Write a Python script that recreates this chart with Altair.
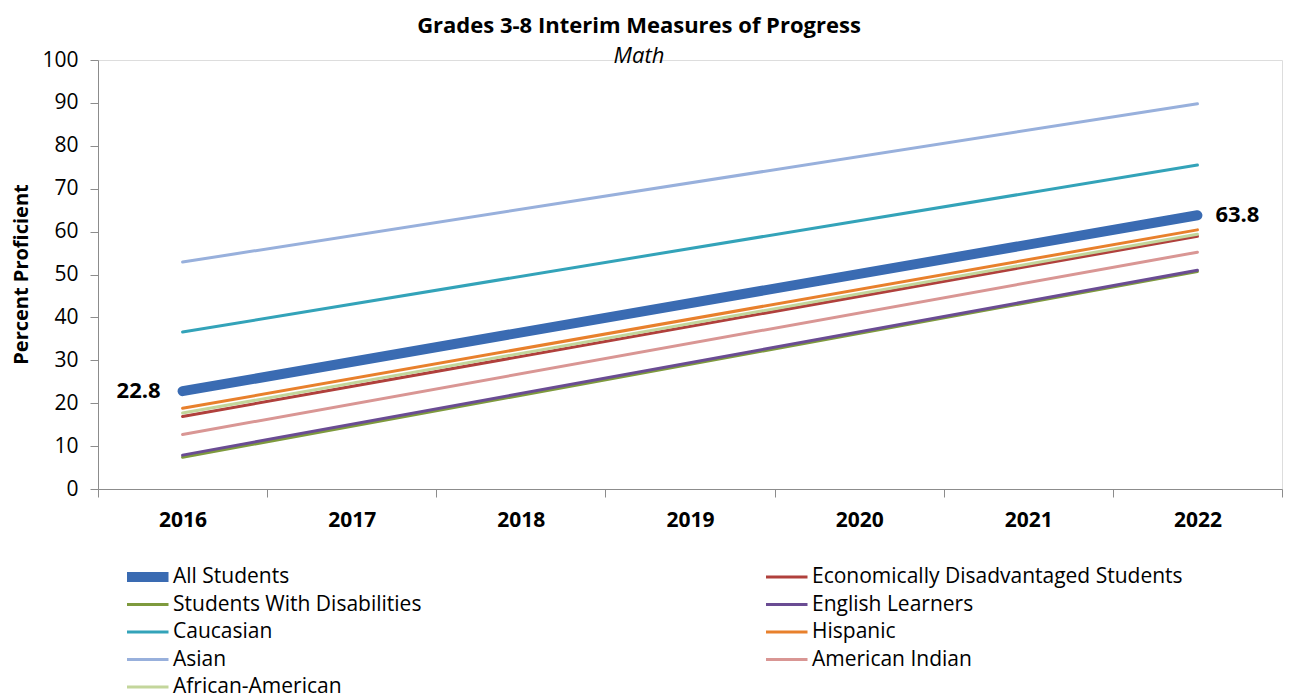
import altair as alt
import pandas as pd

years = ["2016", "2017", "2018", "2019", "2020", "2021", "2022"]
series = [
    "All Students",
    "Economically Disadvantaged Students",
    "Students With Disabilities",
    "English Learners",
    "Caucasian",
    "Hispanic",
    "Asian",
    "American Indian",
    "African-American",
]
value_2016 = [22.8, 16.9, 7.4, 7.9, 36.6, 18.8, 52.9, 12.7, 17.7]
value_2022 = [63.8, 58.9, 50.7, 51.0, 75.5, 60.4, 89.8, 55.2, 59.4]
colors = ["#3A6BB2", "#B0403C", "#7E9A3D", "#6A4C93", "#33A3B9",
          "#E8802C", "#98B0DC", "#D99694", "#C3D69B"]
widths = [10, 3, 3, 3, 3, 3, 3, 3, 3]

rows = []
for s, a, b in zip(series, value_2016, value_2022):
    rows.append({"Group": s, "Year": years[0], "Value": a})
    rows.append({"Group": s, "Year": years[-1], "Value": b})
df = pd.DataFrame(rows)

labels_df = pd.DataFrame([
    {"Year": years[0], "Value": value_2016[0], "Label": f"{value_2016[0]}", "side": "start"},
    {"Year": years[-1], "Value": value_2022[0], "Label": f"{value_2022[0]}", "side": "end"},
])

FONT = "Open Sans"

legend = alt.Legend(
    title=None,
    orient="none",
    direction="horizontal",
    legendX=29,
    legendY=505,
    columns=2,
    columnPadding=344,
    rowPadding=3.5,
    padding=0,
    clipHeight=24,
    symbolType="M-2.2,0H6.2",
    symbolSize=100,
    labelOffset=25,
    labelFont=FONT,
    labelFontSize=21,
    labelColor="#000000",
    labelLimit=600,
)

x_enc = alt.X(
    "Year:O",
    scale=alt.Scale(domain=years, paddingInner=0, paddingOuter=0),
    axis=alt.Axis(
        title=None,
        labelAngle=0,
        labelFont=FONT,
        labelFontSize=21,
        labelFontWeight="bold",
        labelColor="#000000",
        labelPadding=12,
        tickBand="extent",
        tickSize=8,
        tickColor="#8C8C8C",
        domainColor="#8C8C8C",
        grid=False,
    ),
)

y_enc = alt.Y(
    "Value:Q",
    scale=alt.Scale(domain=[0, 100], nice=False),
    axis=alt.Axis(
        title="Percent Proficient",
        values=list(range(0, 101, 10)),
        labelFont=FONT,
        labelFontSize=21,
        labelColor="#000000",
        labelPadding=12,
        tickSize=8,
        tickColor="#8C8C8C",
        domainColor="#8C8C8C",
        grid=False,
        titleFont=FONT,
        titleFontSize=20,
        titleFontWeight="bold",
        titleColor="#000000",
        titleX=-77,
        titleY=214,
        titleAngle=270,
        titleAlign="center",
        titleBaseline="middle",
    ),
)

lines = alt.Chart(df).mark_line(strokeCap="round").encode(
    x=x_enc,
    y=y_enc,
    color=alt.Color("Group:N", scale=alt.Scale(domain=series, range=colors), legend=legend),
    strokeWidth=alt.StrokeWidth("Group:N", scale=alt.Scale(type="ordinal", domain=series, range=widths), legend=legend),
    detail="Group:N",
)

label_start = alt.Chart(labels_df).transform_filter(alt.datum.side == "start").mark_text(
    align="right", baseline="middle", dx=-22, font=FONT, fontSize=22, fontWeight="bold", color="#000000"
).encode(x=alt.X("Year:O"), y=alt.Y("Value:Q"), text="Label:N")

label_end = alt.Chart(labels_df).transform_filter(alt.datum.side == "end").mark_text(
    align="left", baseline="middle", dx=18, font=FONT, fontSize=22, fontWeight="bold", color="#000000"
).encode(x=alt.X("Year:O"), y=alt.Y("Value:Q"), text="Label:N")

chart = alt.layer(lines, label_start, label_end).properties(
    width=1184,
    height=429,
    autosize=alt.AutoSizeParams(type="none"),
    padding={"left": 90, "top": 52, "right": 2, "bottom": 211},
    title=alt.TitleParams(
        text="Grades 3-8 Interim Measures of Progress",
        subtitle="Math",
        font=FONT,
        fontSize=22,
        fontWeight="bold",
        color="#000000",
        subtitleFont=FONT,
        subtitleFontSize=22,
        subtitleFontStyle="italic",
        subtitleColor="#000000",
        subtitlePadding=8,
        anchor="middle",
        dx=-51,
        offset=-19,
    ),
).configure_view(stroke=None).configure(background="#FFFFFF")

chart.save("out.html", embed_options={"renderer": "svg", "actions": False})
